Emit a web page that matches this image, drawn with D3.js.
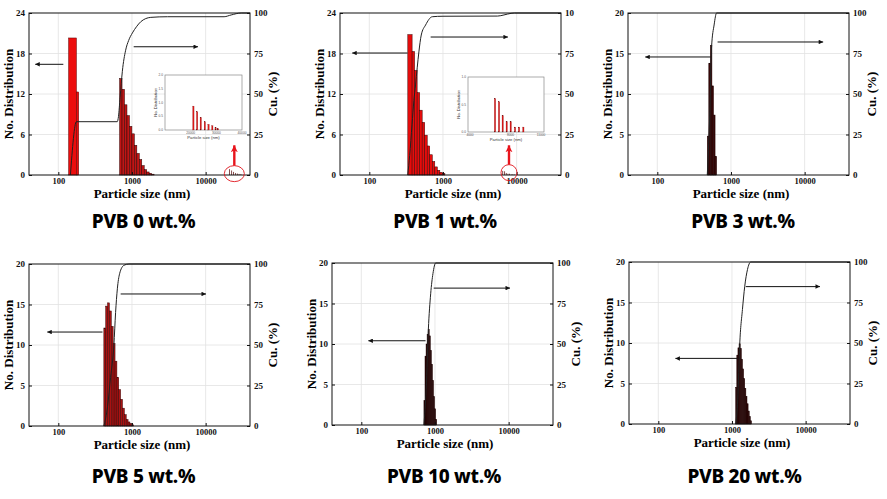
<!DOCTYPE html>
<html>
<head>
<meta charset="utf-8">
<script src="https://cdn.jsdelivr.net/npm/d3@7"></script>
<style>
    body { margin: 0; background: #fff; }
    text { font-family: "Liberation Serif", "Times New Roman", serif; font-weight: bold; }
    text.title { font-family: "Noto Sans", sans-serif; font-weight: 800; }
    text.tiny { font-family: "Liberation Sans", Arial, sans-serif; font-weight: normal; }
</style>
</head>
<body>
<svg id="chart" width="887" height="499"></svg>
<script>
// common axis stuff
var xTicks = [100, 1000, 10000];
var cuTicks = [0, 25, 50, 75, 100];
var cuLabels = ["0", "25", "50", "75", "100"];
var cuLabelsCut = ["0", "25", "50", "75", "10"];   // right edge of panel 2 is cropped in the source
var titles = ["PVB 0 wt.%", "PVB 1 wt.%", "PVB 3 wt.%", "PVB 5 wt.%", "PVB 10 wt.%", "PVB 20 wt.%"];

// PVB 0 wt.%
var p0EdgesA = [138, 176, 189];
var p0CountsA = [20.3, 12.3];
var p0EdgesB = [679, 733, 792, 855, 924, 998, 1078, 1164, 1257, 1358, 1466, 1584, 1710, 1847, 1995];
var p0CountsB = [14.3, 12.7, 10.4, 8.8, 7.2, 6.1, 4.4, 3.2, 2.3, 1.4, 0.8, 0.45, 0.25, 0.12];
var p0TailSize = [21050, 22510, 23930, 25510, 26970, 28430, 29730, 30640];
var p0TailCount = [0.87, 0.67, 0.46, 0.30, 0.21, 0.16, 0.08, 0.05];
var p0CuSize = [146, 176, 632, 655, 690, 740, 820, 900, 1013, 1150, 1315, 1799, 3040, 17800, 22200, 30400, 40000];
var p0CuValue = [0, 32.9, 32.9, 36, 48, 64, 77, 83, 87.7, 91.5, 94.6, 97.3, 97.7, 97.7, 98.8, 100, 100];
var p0Arrows = [[117, 48.6, 16.4], [1055, 7880, 19.0]];

// PVB 1 wt.%
var p1Edges = [333, 381, 412, 446, 483, 522, 565, 611, 661, 716, 774, 838, 906, 981, 1061];
var p1Counts = [20.8, 18.3, 15.5, 12.2, 9.6, 7.8, 5.9, 4.3, 3.0, 2.0, 1.2, 0.7, 0.4, 0.2];
var p1TailSize = [6465, 6860, 7225, 7620, 8015, 8440, 8835, 9260];
var p1TailCount = [0.61, 0.55, 0.30, 0.19, 0.19, 0.09, 0.09, 0.09];
var p1CuSize = [333, 353, 380, 403, 424, 471, 507, 581, 716, 1000, 5520, 6730, 8390, 9310, 40000];
var p1CuValue = [0, 12, 31, 46, 55.6, 76, 86.4, 92.6, 97.7, 98, 98.1, 98.8, 99.8, 100, 100];
var p1Arrows = [[330, 58.6, 18.07], [680, 7610, 20.44]];

// PVB 3 wt.%
var p3Edges = [476.6, 500, 525, 551, 579, 608, 638];
var p3Counts = [4.8, 13.8, 16.0, 11.0, 7.4, 2.3];
var p3CuSize = [476.6, 512, 545, 590, 638, 40000];
var p3CuValue = [0, 34, 79, 92.6, 100, 100];
var p3Arrows = [[528, 68.6, 14.57], [658, 17840, 16.42]];

// PVB 5 wt.%
var p5Edges = [415, 440, 466, 494, 524, 555, 589, 624, 661, 701, 743, 788, 835, 885, 938, 994, 1054];
var p5Counts = [12.1, 14.8, 15.2, 14.2, 12.3, 10.2, 8.0, 6.0, 4.5, 3.3, 2.2, 1.4, 0.8, 0.5, 0.3, 0.15];
var p5CuSize = [415, 466, 512, 568, 599, 633, 679, 778, 910, 40000];
var p5CuValue = [0, 12, 30, 50, 70, 84.7, 94, 99.2, 100, 100];
var p5Arrows = [[398, 70.8, 11.6], [702, 10110, 16.3]];

// PVB 10 wt.%
var p10Edges = [708, 732, 757, 782, 808, 835, 864, 893, 923, 954, 986, 1019, 1054];
var p10Counts = [3, 8.5, 10, 11.2, 11.8, 11, 9.2, 7.5, 5.5, 3.5, 2.0, 0.7];
var p10CuSize = [708, 759, 813, 874, 939, 1022, 40000];
var p10CuValue = [0, 22, 59, 81, 93.5, 100, 100];
var p10Arrows = [[745, 124.6, 10.4], [960, 10436, 16.9]];

// PVB 20 wt.%
var p20Edges = [1123, 1163, 1205, 1248, 1293, 1340, 1388, 1438, 1489, 1543, 1598, 1655, 1715, 1776, 1840];
var p20Counts = [4.5, 8.5, 9.4, 9.9, 9.3, 8.0, 6.8, 5.6, 4.4, 3.4, 2.5, 1.6, 0.9, 0.4];
var p20CuSize = [1123, 1197, 1273, 1387, 1490, 1622, 1799, 40000];
var p20CuValue = [0, 15, 49, 70.7, 85, 95.3, 100, 100];
var p20Arrows = [[1193, 170.6, 8.1], [1537, 15650, 16.96]];

var W = 221, H = 162;

var panels = [
    {x0: 29, y0: 13, ymax: 24, yTicks: [0, 6, 12, 18, 24], title: titles[0], titleX: 143.5, titleY: 228,
        groups: [{edges: p0EdgesA, counts: p0CountsA, fill: "#ec0d0d", stroke: "#5a0000"},
            {edges: p0EdgesB, counts: p0CountsB, fill: "#c01515", stroke: "#2a0505"}],
        tail: {sizes: p0TailSize, counts: p0TailCount},
        inset: {x: 165, y: 75, w: 77, h: 55, domain: [10000, 40000], ticks: [20000, 30000, 40000], ymax: 2, yTicks: [0, 0.5, 1, 1.5, 2]},
        mark: {size: 24500, count: 0.2, top: 4.4, rx: 10, ry: 8},
        cu: {sizes: p0CuSize, values: p0CuValue}, arrows: p0Arrows, cuLabels: cuLabels, cuTitle: true},
    {x0: 340, y0: 13, ymax: 24, yTicks: [0, 6, 12, 18, 24], title: titles[1], titleX: 445, titleY: 228,
        groups: [{edges: p1Edges, counts: p1Counts, fill: "#e60c0c", stroke: "#3a0505"}],
        tail: {sizes: p1TailSize, counts: p1TailCount},
        inset: {x: 468, y: 77, w: 76, h: 55, domain: [3800, 11300], ticks: [4000, 8000, 11000], ymax: 1, yTicks: [0, 0.5, 1]},
        mark: {size: 7870, count: 0.35, top: 4.4, rx: 8, ry: 8},
        cu: {sizes: p1CuSize, values: p1CuValue}, arrows: p1Arrows, cuLabels: cuLabelsCut, cuTitle: false},
    {x0: 628, y0: 13, ymax: 20, yTicks: [0, 5, 10, 15, 20], title: titles[2], titleX: 743, titleY: 228,
        groups: [{edges: p3Edges, counts: p3Counts, fill: "#3a0707", stroke: "#1a0000"}],
        cu: {sizes: p3CuSize, values: p3CuValue}, arrows: p3Arrows, cuLabels: cuLabels, cuTitle: true},
    {x0: 29, y0: 264, ymax: 20, yTicks: [0, 5, 10, 15, 20], title: titles[3], titleX: 143.5, titleY: 483,
        groups: [{edges: p5Edges, counts: p5Counts, fill: "#a81212", stroke: "#3a0505"}],
        cu: {sizes: p5CuSize, values: p5CuValue}, arrows: p5Arrows, cuLabels: cuLabels, cuTitle: true},
    {x0: 332, y0: 263, ymax: 20, yTicks: [0, 5, 10, 15, 20], title: titles[4], titleX: 444, titleY: 483,
        groups: [{edges: p10Edges, counts: p10Counts, fill: "#300606", stroke: "#180000"}],
        cu: {sizes: p10CuSize, values: p10CuValue}, arrows: p10Arrows, cuLabels: cuLabels, cuTitle: true},
    {x0: 629, y0: 262, ymax: 20, yTicks: [0, 5, 10, 15, 20], title: titles[5], titleX: 744.5, titleY: 483,
        groups: [{edges: p20Edges, counts: p20Counts, fill: "#340a0a", stroke: "#1a0000"}],
        cu: {sizes: p20CuSize, values: p20CuValue}, arrows: p20Arrows, cuLabels: cuLabels, cuTitle: true}
];

var svg = d3.select("#chart");

// arrow heads
var defs = svg.append("defs");
defs.append("marker")
        .attr("id", "headBlack")
        .attr("viewBox", "0 0 10 10")
        .attr("refX", 10).attr("refY", 5)
        .attr("markerWidth", 6).attr("markerHeight", 4.5)
        .attr("markerUnits", "userSpaceOnUse")
        .attr("orient", "auto")
        .append("path").attr("d", "M0,0L10,5L0,10z").attr("fill", "#111");
defs.append("marker")
        .attr("id", "headRed")
        .attr("viewBox", "0 0 10 10")
        .attr("refX", 10).attr("refY", 5)
        .attr("markerWidth", 7).attr("markerHeight", 9)
        .attr("markerUnits", "userSpaceOnUse")
        .attr("orient", "auto")
        .append("path").attr("d", "M0,0L10,5L0,10L3,5z").attr("fill", "#e8141c");

panels.forEach(drawPanel);

function drawPanel(p) {
    var x = d3.scaleLog().domain([40, 40000]).range([p.x0, p.x0 + W]);
    var y = d3.scaleLinear().domain([0, p.ymax]).range([p.y0 + H, p.y0]);
    var yr = d3.scaleLinear().domain([0, 100]).range([p.y0 + H, p.y0]);
    var g = svg.append("g");

    // grid
    g.selectAll(".vg").data(xTicks).enter().append("line")
            .attr("x1", function (d) { return x(d); }).attr("x2", function (d) { return x(d); })
            .attr("y1", p.y0).attr("y2", p.y0 + H)
            .attr("stroke", "#e2e2e2").attr("stroke-width", 0.8);
    g.selectAll(".hg").data(p.yTicks.slice(1, -1)).enter().append("line")
            .attr("x1", p.x0).attr("x2", p.x0 + W)
            .attr("y1", function (d) { return y(d); }).attr("y2", function (d) { return y(d); })
            .attr("stroke", "#e2e2e2").attr("stroke-width", 0.8);

    // histogram bars
    p.groups.forEach(function (grp) {
        g.selectAll(null).data(grp.counts).enter().append("rect")
                .attr("x", function (d, i) { return x(grp.edges[i]); })
                .attr("width", function (d, i) { return x(grp.edges[i + 1]) - x(grp.edges[i]); })
                .attr("y", function (d) { return y(d); })
                .attr("height", function (d) { return y(0) - y(d); })
                .attr("fill", grp.fill)
                .attr("stroke", grp.stroke)
                .attr("stroke-width", 0.5);
    });

    // tiny bars far out
    if (p.tail) {
        g.selectAll(null).data(p.tail.counts).enter().append("rect")
                .attr("x", function (d, i) { return x(p.tail.sizes[i]) - 0.45; })
                .attr("width", 0.9)
                .attr("y", function (d) { return y(d); })
                .attr("height", function (d) { return y(0) - y(d); })
                .attr("fill", "#7a3a3a");
    }

    // cumulative curve
    var line = d3.line()
            .x(function (d) { return x(d[0]); })
            .y(function (d) { return yr(d[1]); })
            .curve(d3.curveMonotoneX);
    g.append("path")
            .datum(d3.zip(p.cu.sizes, p.cu.values))
            .attr("d", line)
            .attr("fill", "none")
            .attr("stroke", "#222")
            .attr("stroke-width", 1);

    // frame + axes
    g.append("rect")
            .attr("x", p.x0).attr("y", p.y0).attr("width", W).attr("height", H)
            .attr("fill", "none").attr("stroke", "#111").attr("stroke-width", 1);

    g.append("g")
            .attr("transform", "translate(0," + (p.y0 + H) + ")")
            .call(d3.axisBottom(x).tickValues(xTicks).tickFormat(d3.format("d")).tickSize(-3).tickSizeOuter(0).tickPadding(3))
            .attr("font-size", 8.5)
            .call(function (a) { a.select(".domain").remove(); });
    g.append("g")
            .attr("transform", "translate(" + p.x0 + ",0)")
            .call(d3.axisLeft(y).tickValues(p.yTicks).tickSize(-3).tickSizeOuter(0).tickPadding(4))
            .attr("font-size", 9)
            .call(function (a) { a.select(".domain").remove(); });
    g.append("g")
            .attr("transform", "translate(" + (p.x0 + W) + ",0)")
            .call(d3.axisRight(yr).tickValues(cuTicks).tickFormat(function (d, i) { return p.cuLabels[i]; })
                    .tickSize(-3).tickSizeOuter(0).tickPadding(4))
            .attr("font-size", 9)
            .call(function (a) { a.select(".domain").remove(); });
    g.selectAll(".tick line").attr("stroke", "#111");
    g.selectAll(".tick text").attr("fill", "#111");

    // labels
    g.append("text")
            .attr("x", p.x0 + 113).attr("y", p.y0 + H + 22.5)
            .attr("text-anchor", "middle").attr("font-size", 13)
            .text("Particle size (nm)");
    g.append("text")
            .attr("transform", "translate(" + (p.x0 - 21) + "," + (p.y0 + H / 2) + ") rotate(-90)")
            .attr("text-anchor", "middle").attr("dy", "0.35em").attr("font-size", 13)
            .text("No. Distribution");
    if (p.cuTitle) {
        g.append("text")
                .attr("transform", "translate(" + (p.x0 + W + 22) + "," + (p.y0 + H / 2) + ") rotate(-90)")
                .attr("text-anchor", "middle").attr("dy", "0.35em").attr("font-size", 13)
                .text("Cu. (%)");
    }
    g.append("text")
            .attr("class", "title")
            .attr("x", p.titleX).attr("y", p.titleY)
            .attr("text-anchor", "middle").attr("font-size", 19)
            .attr("letter-spacing", -0.3)
            .text(p.title);

    // direction arrows
    g.selectAll(null).data(p.arrows).enter().append("line")
            .attr("x1", function (d) { return x(d[0]); })
            .attr("x2", function (d) { return x(d[1]); })
            .attr("y1", function (d) { return y(d[2]); })
            .attr("y2", function (d) { return y(d[2]); })
            .attr("stroke", "#111").attr("stroke-width", 1)
            .attr("marker-end", "url(#headBlack)");

    if (p.inset) drawInset(g, p, x, y);
}

function drawInset(g, p, x, y) {
    var s = p.inset;
    var ix = d3.scaleLinear().domain(s.domain).range([s.x, s.x + s.w]);
    var iy = d3.scaleLinear().domain([0, s.ymax]).range([s.y + s.h, s.y]);

    g.append("rect")
            .attr("x", s.x).attr("y", s.y).attr("width", s.w).attr("height", s.h)
            .attr("fill", "#fff").attr("stroke", "#888").attr("stroke-width", 0.7);
    g.selectAll(null).data(p.tail.counts).enter().append("rect")
            .attr("x", function (d, i) { return ix(p.tail.sizes[i]) - 0.7; })
            .attr("width", 1.4)
            .attr("y", function (d) { return iy(d); })
            .attr("height", function (d) { return iy(0) - iy(d); })
            .attr("fill", "#e01818")
            .attr("stroke", "#6a1010").attr("stroke-width", 0.2);

    g.selectAll(null).data(s.ticks).enter().append("text")
            .attr("class", "tiny")
            .attr("x", function (d) { return ix(d); })
            .attr("y", s.y + s.h + 4)
            .attr("text-anchor", "middle").attr("font-size", 3.2).attr("fill", "#555")
            .text(function (d) { return d; });
    g.selectAll(null).data(s.yTicks).enter().append("text")
            .attr("class", "tiny")
            .attr("x", s.x - 2)
            .attr("y", function (d) { return iy(d) + 1; })
            .attr("text-anchor", "end").attr("font-size", 3.2).attr("fill", "#555")
            .text(function (d) { return d.toFixed(1); });
    g.append("text")
            .attr("class", "tiny")
            .attr("x", s.x + s.w / 2).attr("y", s.y + s.h + 9)
            .attr("text-anchor", "middle").attr("font-size", 4.2).attr("fill", "#333")
            .text("Particle size (nm)");
    g.append("text")
            .attr("class", "tiny")
            .attr("transform", "translate(" + (s.x - 8) + "," + (s.y + s.h / 2) + ") rotate(-90)")
            .attr("text-anchor", "middle").attr("font-size", 4.2).attr("fill", "#333")
            .text("No. Distribution");

    // red circle + arrow pointing up to the zoomed view
    var m = p.mark;
    g.append("ellipse")
            .attr("cx", x(m.size)).attr("cy", y(m.count))
            .attr("rx", m.rx).attr("ry", m.ry)
            .attr("fill", "none").attr("stroke", "#e0141c").attr("stroke-width", 0.9);
    g.append("line")
            .attr("x1", x(m.size)).attr("x2", x(m.size))
            .attr("y1", y(m.count) - m.ry).attr("y2", y(m.top))
            .attr("stroke", "#e8141c").attr("stroke-width", 2.4)
            .attr("marker-end", "url(#headRed)");
}
</script>
</body>
</html>
